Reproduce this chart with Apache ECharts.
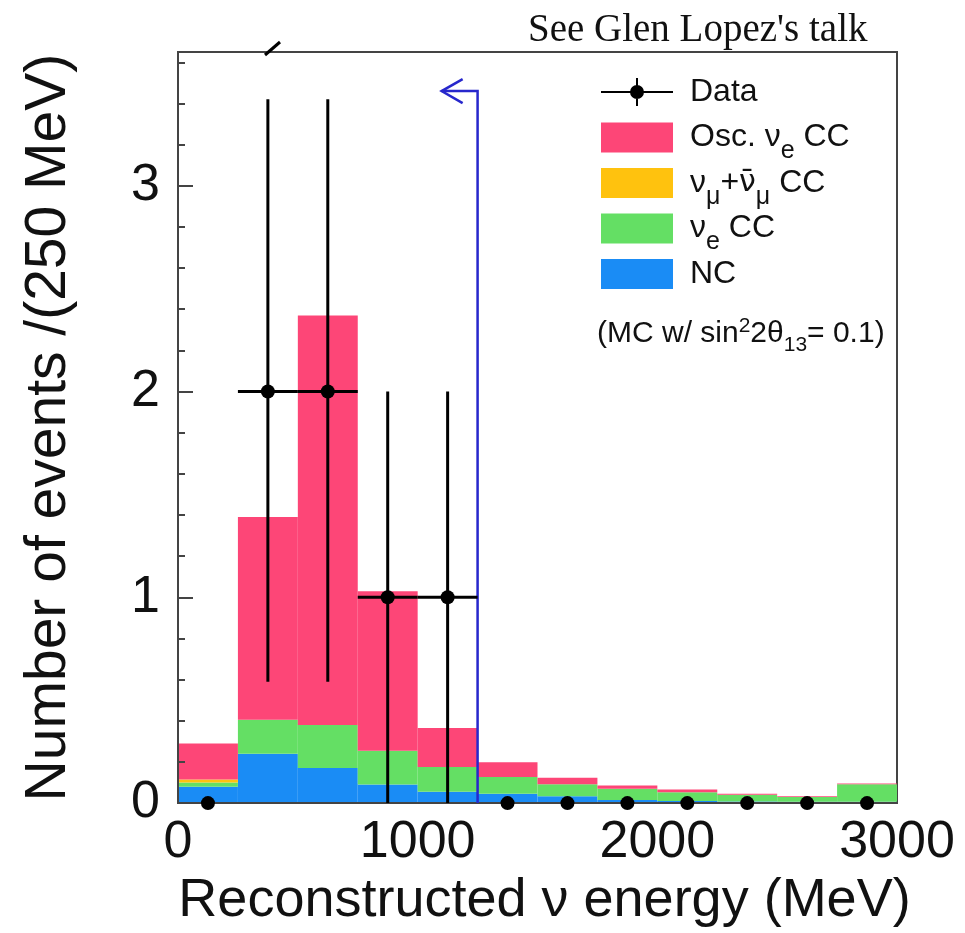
<!DOCTYPE html>
<html>
<head>
<meta charset="utf-8">
<script src="https://cdn.jsdelivr.net/npm/echarts@6/dist/echarts.min.js"></script>
<style>html,body{margin:0;padding:0;background:#fff}#c{width:965px;height:933px}</style>
</head>
<body>
<div id="c"></div>
<script>
// ---- data ----
const binEdges = [0, 250, 500, 750, 1000, 1250, 1500, 1750, 2000, 2250, 2500, 2750, 3000];
const ncValues   = [0.080, 0.240, 0.170, 0.090, 0.055, 0.045, 0.033, 0.015, 0.010, 0.008, 0.006, 0.006];
const nueValues  = [0.020, 0.165, 0.210, 0.165, 0.120, 0.082, 0.059, 0.055, 0.043, 0.032, 0.024, 0.086];
const numuValues = [0.015, 0.000, 0.000, 0.000, 0.000, 0.000, 0.000, 0.000, 0.000, 0.000, 0.000, 0.000];
const oscValues  = [0.175, 0.985, 1.990, 0.775, 0.190, 0.071, 0.031, 0.015, 0.013, 0.005, 0.003, 0.003];
const dataCounts  = [0, 2, 2, 1, 1, 0, 0, 0, 0, 0, 0, 0];
const dataErrLow  = [0, 0.59, 0.59, 0, 0, 0, 0, 0, 0, 0, 0, 0];
const dataErrHigh = [0, 3.42, 3.42, 2.0, 2.0, 0, 0, 0, 0, 0, 0, 0];
const xTickValues = [0, 1000, 2000, 3000];
const yTickValues = [0, 1, 2, 3];
const cutEnergy = 1250;
const cutArrowTop = 3.46;
const cutArrowEnd = 1100;

// ---- build series ----
const FONT = 'Liberation Sans, Arial, Helvetica, sans-serif';
const layers = [
  { name: 'NC',           vals: ncValues,   color: '#1a8cf5' },
  { name: 'νe CC',        vals: nueValues,  color: '#64df64' },
  { name: 'νμ+ν̄μ CC',     vals: numuValues, color: '#ffc20e' },
  { name: 'Osc. νe CC',   vals: oscValues,  color: '#fd4677' }
];
const stackBase = binEdges.slice(1).map(() => 0);

function rectRender(params, api) {
  const p0 = api.coord([api.value(0), api.value(3)]);
  const p1 = api.coord([api.value(1), api.value(2)]);
  return {
    type: 'rect',
    shape: { x: p0[0], y: p0[1], width: p1[0] - p0[0], height: p1[1] - p0[1] },
    style: { fill: api.visual('color') }
  };
}

const histSeries = layers.map(L => {
  const data = L.vals.map((v, i) => {
    const y0 = stackBase[i], y1 = stackBase[i] + v;
    stackBase[i] = y1;
    return [binEdges[i], binEdges[i + 1], y0, y1];
  });
  return {
    type: 'custom', name: L.name, renderItem: rectRender, data: data,
    encode: { x: [0, 1], y: [2, 3] }, itemStyle: { color: L.color }, z: 2
  };
});

const pointData = dataCounts.map((n, i) => [
  (binEdges[i] + binEdges[i + 1]) / 2, n, binEdges[i], binEdges[i + 1], dataErrLow[i], dataErrHigh[i]
]);

const dataSeries = {
  type: 'custom', name: 'Data', data: pointData, z: 6,
  encode: { x: 0, y: 1 },
  itemStyle: { color: '#000' },
  renderItem: function (params, api) {
    const x = api.value(0), y = api.value(1);
    const c = api.coord([x, y]);
    const children = [];
    if (y > 0) {
      const l = api.coord([api.value(2), y]), r = api.coord([api.value(3), y]);
      const lo = api.coord([x, api.value(4)]), hi = api.coord([x, api.value(5)]);
      children.push({ type: 'line', shape: { x1: l[0], y1: l[1], x2: r[0], y2: r[1] }, style: { stroke: '#000', lineWidth: 3 } });
      children.push({ type: 'line', shape: { x1: lo[0], y1: lo[1], x2: hi[0], y2: hi[1] }, style: { stroke: '#000', lineWidth: 3 } });
    }
    children.push({ type: 'circle', shape: { cx: c[0], cy: c[1], r: 7 }, style: { fill: '#000' } });
    return { type: 'group', children: children };
  }
};

const cutSeries = {
  type: 'custom', name: 'cut', data: [[cutEnergy, cutArrowTop, cutArrowEnd]], z: 5,
  encode: { x: 0, y: 1 }, silent: true,
  renderItem: function (params, api) {
    const b = api.coord([api.value(0), 0]);
    const t = api.coord([api.value(0), api.value(1)]);
    const e = api.coord([api.value(2), api.value(1)]);
    return {
      type: 'group', children: [
        { type: 'polyline', shape: { points: [b, t, e] }, style: { stroke: '#2727cc', lineWidth: 2.5, fill: null } },
        { type: 'polyline', shape: { points: [[e[0] + 21, e[1] - 12], e, [e[0] + 21, e[1] + 12]] }, style: { stroke: '#2727cc', lineWidth: 2.5, fill: null } }
      ]
    };
  }
};

const legendRich = {
  m: { fontSize: 32, lineHeight: 30, fontFamily: FONT, color: '#111' },
  g: { fontSize: 30, lineHeight: 30, fontFamily: 'DejaVu Sans, sans-serif', color: '#111' },
  s: { fontSize: 25, height: 2, lineHeight: 2, verticalAlign: 'bottom', fontFamily: FONT, color: '#111' }
};
const legendLabels = {
  'Data': '{m|Data}{s| }',
  'Osc. νe CC': '{m|Osc. ν}{s|e}{m| CC}',
  'νμ+ν̄μ CC': '{m|ν}{s|μ}{m|+}{g|ν̄}{s|μ}{m| CC}',
  'νe CC': '{m|ν}{s|e}{m| CC}',
  'NC': '{m|NC}{s| }'
};

const dataIcon = 'path://M0 14H72V16H0Z M35 1H37V29H35Z M29 15A7 7 0 1 1 43 15A7 7 0 1 1 29 15Z';

const option = {
  animation: false,
  backgroundColor: '#fff',
  title: {
    text: "See Glen Lopez's talk", left: 523, top: 6,
    textStyle: { fontFamily: 'Liberation Serif, Times New Roman, serif', fontSize: 39, fontWeight: 'normal', color: '#111' }
  },
  grid: { left: 178, right: 68, top: 52, bottom: 125, show: true, borderColor: '#444', borderWidth: 2, backgroundColor: 'transparent' },
  legend: {
    orient: 'vertical', left: 596, top: 71, itemWidth: 72, itemHeight: 30, itemGap: 3,
    selectedMode: false,
    data: [
      { name: 'Data', icon: dataIcon },
      { name: 'Osc. νe CC', icon: 'rect' },
      { name: 'νμ+ν̄μ CC', icon: 'rect' },
      { name: 'νe CC', icon: 'rect' },
      { name: 'NC', icon: 'rect' }
    ],
    formatter: name => legendLabels[name] || name,
    textStyle: { rich: legendRich, padding: [0, 0, 0, 12] }
  },
  xAxis: {
    type: 'value', min: 0, max: 3000, interval: 1000, z: 4,
    axisLine: { show: true, lineStyle: { color: '#444', width: 2 } },
    axisTick: { show: false },
    splitLine: { show: false },
    axisLabel: {
      fontSize: 52, fontFamily: FONT, color: '#111', margin: 14,
      formatter: v => (xTickValues.indexOf(v) >= 0 ? String(v) : '')
    },
    name: 'Reconstructed ν energy (MeV)', nameLocation: 'middle', nameGap: 66,
    nameTextStyle: { fontSize: 54, fontFamily: FONT, color: '#111', padding: [0, 0, 0, 14] }
  },
  yAxis: [
    {
      type: 'value', min: 0, max: 3.65, interval: 1, z: 4,
      axisLine: { show: true, lineStyle: { color: '#444', width: 2 } },
      axisTick: { show: true, inside: true, length: 15, lineStyle: { color: '#444', width: 2 } },
      splitLine: { show: false },
      axisLabel: {
        fontSize: 52, fontFamily: FONT, color: '#111', margin: 18,
        formatter: v => (yTickValues.indexOf(v) >= 0 ? String(v) : '')
      },
      name: 'Number of events /(250 MeV)', nameLocation: 'middle', nameGap: 100,
      nameTextStyle: { fontSize: 57, fontFamily: FONT, color: '#111' }
    },
    {
      type: 'value', min: 0, max: 3.65, interval: 0.2, position: 'left', z: 4,
      axisLine: { show: false },
      axisTick: { show: true, inside: true, length: 7, lineStyle: { color: '#444', width: 2 } },
      axisLabel: { show: false },
      splitLine: { show: false }
    }
  ],
  graphic: [
    {
      type: 'text', left: 597, top: 316, z: 10,
      style: {
        text: '{n|(MC w/ sin}{p|2}{n|2θ}{b|13}{n|= 0.1)}',
        rich: {
          n: { fontSize: 30, lineHeight: 30, fontFamily: FONT, fill: '#111' },
          p: { fontSize: 21, height: 16, lineHeight: 16, verticalAlign: 'top', fontFamily: FONT, fill: '#111' },
          b: { fontSize: 21, height: 6, lineHeight: 6, verticalAlign: 'bottom', fontFamily: FONT, fill: '#111' }
        }
      }
    },
    {
      type: 'line', z: 10,
      shape: { x1: 265, y1: 55, x2: 280, y2: 42 },
      style: { stroke: '#000', lineWidth: 3 }
    }
  ],
  series: histSeries.concat([cutSeries, dataSeries])
};

const chart = echarts.init(document.getElementById('c'), null, { renderer: 'canvas' });
chart.setOption(option);
</script>
</body>
</html>
